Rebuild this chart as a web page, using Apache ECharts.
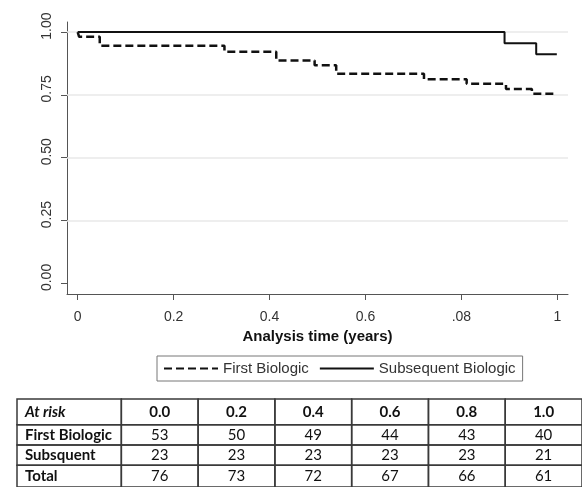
<!DOCTYPE html>
<html>
<head>
<meta charset="utf-8">
<script src="https://cdn.jsdelivr.net/npm/echarts@6/dist/echarts.min.js"></script>
<style>
html,body{margin:0;padding:0;background:#fff;}
#chart{width:582px;height:487px;}
</style>
</head>
<body>
<div id="chart"></div>
<script>
// ---- data ----
const firstTimes = [0, 0.003, 0.046, 0.306, 0.414, 0.494, 0.539, 0.722, 0.811, 0.893, 0.947, 0.999];
const firstSurv  = [1, 0.981, 0.946, 0.922, 0.887, 0.868, 0.834, 0.812, 0.794, 0.773, 0.755, 0.755];
const subsTimes  = [0, 0.890, 0.956, 0.999];
const subsSurv   = [1, 0.955, 0.912, 0.912];

const xTickValues = [0, 0.2, 0.4, 0.6, 0.8, 1];
const xTickLabels = ['0', '0.2', '0.4', '0.6', '.08', '1'];
const yTickValues = [0, 0.25, 0.5, 0.75, 1];
const yTickLabels = ['0.00', '0.25', '0.50', '0.75', '1.00'];
const gridLineValues = [0.25, 0.5, 0.75, 1];

const seriesNames = ['First Biologic', 'Subsequent Biologic'];

const tableHeader = ['At risk', '0.0', '0.2', '0.4', '0.6', '0.8', '1.0'];
const rowLabels = ['First Biologic', 'Subsquent', 'Total'];
const firstAtRisk = [53, 50, 49, 44, 43, 40];
const subsAtRisk  = [23, 23, 23, 23, 23, 21];
const totalAtRisk = [76, 73, 72, 67, 66, 61];

// ---- layout helpers ----
const colEdges = [0, 106, 184, 262, 340, 418, 496, 574];
const rowEdges = [0, 26, 46.5, 67, 89];

function pick(values, labels, v) {
  let best = 0, d = Infinity;
  values.forEach((t, i) => { const dd = Math.abs(t - v); if (dd < d) { d = dd; best = i; } });
  return labels[best];
}

const rowsData = [firstAtRisk, subsAtRisk, totalAtRisk];
const cells = [];
tableHeader.forEach((h, c) => cells.push({ r: 0, c: c, text: h, bold: true, italic: c === 0 }));
rowLabels.forEach((lab, ri) => {
  cells.push({ r: ri + 1, c: 0, text: lab, bold: true, italic: false });
  rowsData[ri].forEach((v, ci) => cells.push({ r: ri + 1, c: ci + 1, text: String(v), bold: false, italic: false }));
});

const chart = echarts.init(document.getElementById('chart'), null, { renderer: 'canvas' });

const axisColor = '#555';
const textColor = '#333';
const chartFont = 'Liberation Sans';
const tableFont = 'Lato';

const option = {
  animation: false,
  backgroundColor: '#fff',
  grid: [
    { left: 67, right: 14, top: 22, bottom: 193, containLabel: false },
    { left: 17, top: 399, width: 574, height: 89, containLabel: false }
  ],
  xAxis: [
    {
      type: 'value', gridIndex: 0, min: -0.0223, max: 1.0223,
      name: 'Analysis time (years)', nameLocation: 'middle', nameGap: 35,
      nameTextStyle: { fontFamily: chartFont, fontSize: 15, fontWeight: 'bold', color: '#111' },
      axisLine: { show: true, onZero: false, lineStyle: { color: axisColor, width: 1 } },
      axisTick: { show: true, length: 6, customValues: xTickValues, lineStyle: { color: axisColor, width: 1 } },
      axisLabel: {
        customValues: xTickValues, margin: 16,
        fontFamily: chartFont, fontSize: 14, color: textColor,
        formatter: v => pick(xTickValues, xTickLabels, v)
      },
      splitLine: { show: false }
    },
    { type: 'value', gridIndex: 1, min: 0, max: 574, show: false }
  ],
  yAxis: [
    {
      type: 'value', gridIndex: 0, min: -0.042, max: 1.04,
      axisLine: { show: true, onZero: false, lineStyle: { color: axisColor, width: 1 } },
      axisTick: { show: true, length: 6, customValues: yTickValues, lineStyle: { color: axisColor, width: 1 } },
      axisLabel: {
        customValues: yTickValues, margin: 13, rotate: 90,
        padding: [0, 0, 0, 12],
        fontFamily: chartFont, fontSize: 14, color: textColor,
        formatter: v => pick(yTickValues, yTickLabels, v)
      },
      splitLine: { show: false }
    },
    { type: 'value', gridIndex: 1, min: 0, max: 89, inverse: true, show: false }
  ],
  legend: {
    left: 157, top: 356,
    padding: [5, 7, 5, 6],
    borderColor: '#777', borderWidth: 1,
    itemWidth: 54, itemHeight: 14, itemGap: 10,
    itemStyle: { color: 'rgba(0,0,0,0)', borderWidth: 0, opacity: 0 },
    textStyle: { fontFamily: chartFont, fontSize: 15, color: textColor },
    data: seriesNames
  },
  series: [
    {
      name: 'grid', type: 'line', xAxisIndex: 0, yAxisIndex: 0, silent: true,
      data: [], symbol: 'none', z: 1,
      markLine: {
        z: 1, silent: true, symbol: 'none', label: { show: false },
        lineStyle: { color: '#e8e8e8', width: 1.5, type: 'solid' },
        data: gridLineValues.map(v => ({ yAxis: v }))
      }
    },
    {
      name: seriesNames[0], type: 'line', xAxisIndex: 0, yAxisIndex: 0,
      step: 'end', symbol: 'none', silent: true,
      lineStyle: { color: '#111', width: 2.5, type: [8, 4] },
      itemStyle: { color: '#111' },
      data: firstTimes.map((t, i) => [t, firstSurv[i]]),
      z: 10
    },
    {
      name: seriesNames[1], type: 'line', xAxisIndex: 0, yAxisIndex: 0,
      step: 'end', symbol: 'none', silent: true,
      lineStyle: { color: '#111', width: 2, type: 'solid' },
      itemStyle: { color: '#111' },
      data: subsTimes.map((t, i) => [t, subsSurv[i]]),
      z: 11
    },
    {
      type: 'custom', xAxisIndex: 1, yAxisIndex: 1, clip: false, silent: true,
      data: cells.map(c => [c.c, c.r]),
      renderItem: function (params, api) {
        const cell = cells[params.dataIndex];
        const p0 = api.coord([colEdges[cell.c], rowEdges[cell.r]]);
        const p1 = api.coord([colEdges[cell.c + 1], rowEdges[cell.r + 1]]);
        const x = p0[0], y = p0[1], w = p1[0] - p0[0], h = p1[1] - p0[1];
        const isFirstCol = cell.c === 0;
        return {
          type: 'group',
          children: [
            { type: 'rect', shape: { x: x, y: y, width: w, height: h },
              style: { fill: null, stroke: '#3a3a3a', lineWidth: 1.5 } },
            { type: 'text',
              style: {
                x: isFirstCol ? x + 8 : x + w / 2, y: y + h / 2,
                text: cell.text,
                align: isFirstCol ? 'left' : 'center', verticalAlign: 'middle',
                font: (cell.italic ? 'italic ' : '') + (cell.bold ? 'bold ' : '') + '15px ' + tableFont,
                fill: '#111'
              } }
          ]
        };
      }
    }
  ]
};
chart.setOption(option);
</script>
</body>
</html>
